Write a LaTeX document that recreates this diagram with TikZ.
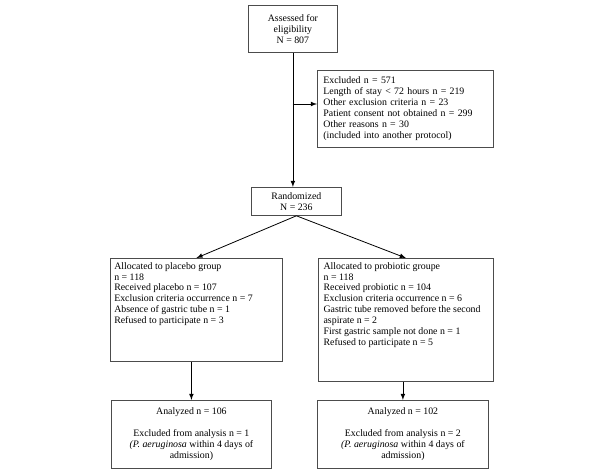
\documentclass[tikz,border=0pt]{standalone}
\usepackage{fontspec}
\setmainfont{Liberation Serif}
\tikzset{
	box/.style={draw={black!70}, line width=0.6pt, inner sep=0pt, anchor=north west, font=\fontsize{7.4}{8.2}\selectfont},
	txt/.style={inner sep=0pt, anchor=north west, align=left, font=\fontsize{7.4}{8.2}\selectfont},
	arr/.style={-latex, line width=0.6pt}
}

\begin{document}
\begin{tikzpicture}[x=0.75pt,y=0.75pt,yscale=-1,xscale=1]
	\useasboundingbox (0,0) rectangle (600,474);

	%Shape: Box [id:elig] 
	\node [box, minimum width=66.75pt, minimum height=35.25pt, align=center] (elig) at (248,5) {Assessed for\\eligibility\\N = 807};
	%Shape: Box [id:excl] 
	\node [box, minimum height=57.75pt, inner xsep=4.5pt, text width=123pt, align=left] (excl) at (317,70) {Excluded n = 571\\Length of stay < 72 hours n = 219\\Other exclusion criteria n = 23\\Patient consent not obtained n = 299\\Other reasons n = 30\\(included into another protocol)};
	%Shape: Box [id:rand] 
	\node [box, minimum width=67.5pt, minimum height=21pt, align=center] (rand) at (251,187) {Randomized\\N = 236};

	%Shape: Box [id:plac] 
	\node [box, minimum width=129pt, minimum height=77.25pt] (plac) at (110,258) {};
	%Shape: Box [id:prob] 
	\node [box, minimum width=131.25pt, minimum height=92.25pt] (prob) at (318,258) {};

	% Text Node
	\node [txt] (plact) at ([xshift=3pt,yshift=3pt]plac.north west) {Allocated to placebo group\\n = 118\\Received placebo n = 107\\Exclusion criteria occurrence n = 7\\Absence of gastric tube n = 1\\Refused to participate n = 3};
	% Text Node
	\node [txt] (probt) at ([xshift=4pt,yshift=3pt]prob.north west) {Allocated to probiotic groupe\\n = 118\\Received probiotic n = 104\\Exclusion criteria occurrence n = 6\\Gastric tube removed before the second\\aspirate n = 2\\First gastric sample not done n = 1\\Refused to participate n = 5};

	%Shape: Box [id:anl] 
	\node [box, minimum width=120pt, minimum height=51pt, align=center] (anl) at (111,400) {Analyzed n = 106\\[8.2pt]Excluded from analysis n = 1\\\textit{(P. aeruginosa} within 4 days of\\admission)};
	%Shape: Box [id:anr] 
	\node [box, minimum width=128.25pt, minimum height=51pt, align=center] (anr) at (317,400) {Analyzed n = 102\\[8.2pt]Excluded from analysis n = 2\\\textit{(P. aeruginosa} within 4 days of\\admission)};

	% Connectors
	\coordinate (junc) at (292.5,104);
	\draw [arr] (elig.south) -- (elig.south |- rand.north);
	\draw [arr] (junc) -- (junc -| excl.west);
	\draw [arr] (rand.south) -- (plac.north);
	\draw [arr] (rand.south) -- (prob.north);
	\draw [arr] (anl.north |- plac.south) -- (anl.north);
	\draw [arr] (anr.north |- prob.south) -- (anr.north);

\end{tikzpicture}
\end{document}
